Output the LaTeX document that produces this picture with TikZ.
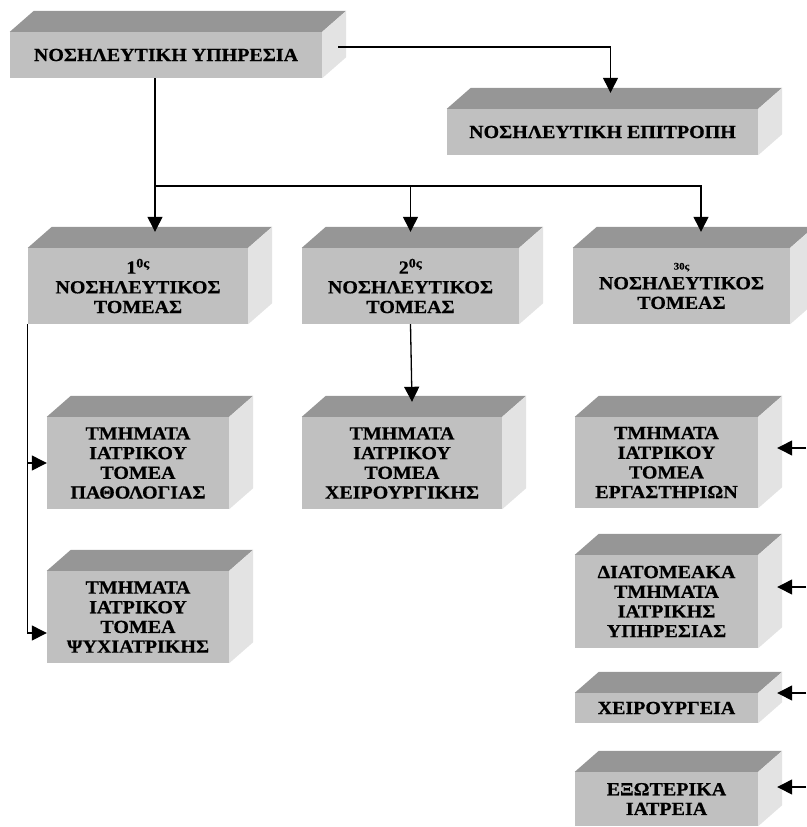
\documentclass[tikz,border=0pt]{standalone}
\usepackage{fontspec}
\setmainfont{Liberation Serif}[BoldFont={Liberation Serif Bold},FakeStretch=1.08,BoldFeatures={FakeBold=0.6}]
\usetikzlibrary{arrows.meta,calc}
\definecolor{frontc}{HTML}{C0C0C0}
\definecolor{topc}{HTML}{969696}
\definecolor{sidec}{HTML}{E3E3E3}
\begin{document}
\begin{tikzpicture}[x=1pt,y=-1pt,
  box/.style={fill=frontc, inner sep=0pt, align=center,
    font=\bfseries\fontsize{18.5}{19.7}\selectfont},
  line/.style={line width=1.3pt},
  arr/.style={line width=1.3pt, -{Triangle[width=15pt,length=15pt]}}]
\useasboundingbox (0,0) rectangle (806,827);
% front faces
\node[box, minimum width=312, minimum height=46] (svc) at (166,55) {ΝΟΣΗΛΕΥΤΙΚΗ ΥΠΗΡΕΣΙΑ};
\node[box, minimum width=311, minimum height=46] (com) at (602.5,132) {ΝΟΣΗΛΕΥΤΙΚΗ ΕΠΙΤΡΟΠΗ};
\node[box, minimum width=220, minimum height=76] (t1) at (138,286) {1\textsuperscript{0ς}\\ΝΟΣΗΛΕΥΤΙΚΟΣ\\ΤΟΜΕΑΣ};
\node[box, minimum width=217, minimum height=76] (t2) at (410.5,286) {2\textsuperscript{0ς}\\ΝΟΣΗΛΕΥΤΙΚΟΣ\\ΤΟΜΕΑΣ};
\node[box, minimum width=217, minimum height=76] (t3) at (681.5,286) {{\fontsize{10}{12}\selectfont 30ς}\\ΝΟΣΗΛΕΥΤΙΚΟΣ\\ΤΟΜΕΑΣ};
\node[box, minimum width=182, minimum height=92] (pat) at (138,463) {ΤΜΗΜΑΤΑ\\ΙΑΤΡΙΚΟΥ\\ΤΟΜΕΑ\\ΠΑΘΟΛΟΓΙΑΣ};
\node[box, minimum width=182, minimum height=92] (psy) at (138,617) {ΤΜΗΜΑΤΑ\\ΙΑΤΡΙΚΟΥ\\ΤΟΜΕΑ\\ΨΥΧΙΑΤΡΙΚΗΣ};
\node[box, minimum width=200, minimum height=92] (chir) at (402,463) {ΤΜΗΜΑΤΑ\\ΙΑΤΡΙΚΟΥ\\ΤΟΜΕΑ\\ΧΕΙΡΟΥΡΓΙΚΗΣ};
\node[box, minimum width=183, minimum height=91] (erg) at (666.5,462.5) {ΤΜΗΜΑΤΑ\\ΙΑΤΡΙΚΟΥ\\ΤΟΜΕΑ\\ΕΡΓΑΣΤΗΡΙΩΝ};
\node[box, minimum width=183, minimum height=93] (dia) at (666.5,601.5) {ΔΙΑΤΟΜΕΑΚΑ\\ΤΜΗΜΑΤΑ\\ΙΑΤΡΙΚΗΣ\\ΥΠΗΡΕΣΙΑΣ};
\node[box, minimum width=183, minimum height=30] (xeir) at (666.5,708) {ΧΕΙΡΟΥΡΓΕΙΑ};
\node[box, minimum width=183, minimum height=54] (exo) at (666.5,799) {ΕΞΩΤΕΡΙΚΑ\\ΙΑΤΡΕΙΑ};
% top and side faces
\foreach \n in {svc,com,t1,t2,t3,pat,psy,chir,erg,dia,xeir,exo}{
  \fill[topc] (\n.north west) -- ++(24,-21) -- ($(\n.north east)+(24,-21)$) -- (\n.north east) -- cycle;
  \fill[sidec] (\n.north east) -- ++(24,-21) -- ($(\n.south east)+(24,-21)$) -- (\n.south east) -- cycle;
}
% connectors
\coordinate (split) at (155,186);
\coordinate (e1) at (806,448);
\coordinate (e2) at (806,587);
\coordinate (e3) at (806,693);
\coordinate (e4) at (806,787);
\draw[arr] ([xshift=16,yshift=8]svc.east) -| ([xshift=8,yshift=16]com.north);
\draw[line] ([xshift=-11]svc.south) -- (split);
\draw[arr] (split) -- ([xshift=17,yshift=16]t1.north);
\draw[arr] (split) -| ([xshift=19.5,yshift=16]t3.north);
\draw[arr] (split -| t2.north) -- ([yshift=16]t2.north);
\draw[arr] (t2.south) -- ([xshift=10,yshift=15]chir.north);
\draw[arr] (t1.south west) |- ([yshift=-16]psy.west);
\draw[arr] (t1.south west |- pat.west) -- (pat.west);
\draw[arr] (e1) -- ([xshift=19,yshift=14.5]erg.east);
\draw[arr] (e2) -- ([xshift=19,yshift=14.5]dia.east);
\draw[arr] (e3) -- ([xshift=19,yshift=15]xeir.east);
\draw[arr] (e4) -- ([xshift=19,yshift=12]exo.east);
\end{tikzpicture}
\end{document}
